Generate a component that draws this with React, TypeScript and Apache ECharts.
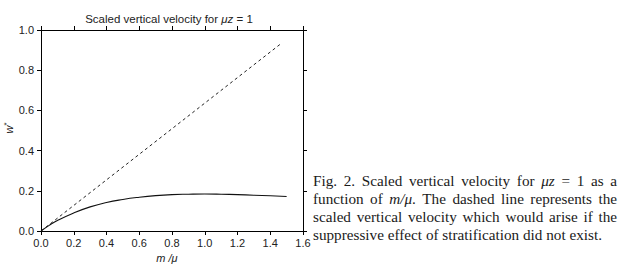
import React, { useEffect, useRef } from "react";
import * as echarts from "echarts";

const solidX = [0, 0.05, 0.1, 0.2, 0.3, 0.4, 0.5, 0.6, 0.7, 0.8, 0.9, 1.0, 1.1, 1.2, 1.3, 1.4, 1.5];
const solidY = [0, 0.028, 0.052, 0.09, 0.12, 0.142, 0.157, 0.168, 0.176, 0.181, 0.183, 0.184, 0.183, 0.181, 0.178, 0.175, 0.172];
const dashedX = [0, 1.47];
const dashedY = [0, 0.935];

const titleText = "Scaled vertical velocity for {i|μz} = 1";
const xAxisName = "m /μ";
const yAxisName = "w";

// caption: each word is list of [text, italic]
type Seg = [string, boolean];
const captionLines: Seg[][][] = [
  [[["Fig.", false]], [["2.", false]], [["Scaled", false]], [["vertical", false]], [["velocity", false]], [["for", false]], [["μz", true]], [["=", false]], [["1", false]], [["as", false]], [["a", false]]],
  [[["function", false]], [["of", false]], [["m/μ", true], [".", false]], [["The", false]], [["dashed", false]], [["line", false]], [["represents", false]], [["the", false]]],
  [[["scaled", false]], [["vertical", false]], [["velocity", false]], [["which", false]], [["would", false]], [["arise", false]], [["if", false]], [["the", false]]],
  [[["suppressive", false]], [["effect", false]], [["of", false]], [["stratification", false]], [["did", false]], [["not", false]], [["exist.", false]]],
];

const CAP_FAMILY = "Liberation Serif";
const CAP_SIZE = 15;

export default function App() {
  const ref = useRef<HTMLDivElement>(null);
  useEffect(() => {
    if (!ref.current) return;
    const chart = echarts.init(ref.current, undefined, { renderer: "svg" });

    const canvas = document.createElement("canvas");
    const ctx = canvas.getContext("2d")!;
    const measure = (t: string, it: boolean) => {
      ctx.font = `${it ? "italic " : ""}${CAP_SIZE}px "${CAP_FAMILY}"`;
      return ctx.measureText(t).width;
    };
    const capLeft = 313;
    const capWidth = 304;
    const lastWidth = 289;
    const capTop = 181;
    const capLine = 18;
    const space = measure(" ", false);
    // horizontal stretch so that the (unjustified) last line matches the reference
    const lastWords = captionLines[captionLines.length - 1];
    const lastNatural =
      lastWords.reduce((s, w) => s + w.reduce((a, [t, it]) => a + measure(t, it), 0), 0) +
      space * (lastWords.length - 1);
    const sx = lastWidth / lastNatural;
    const captionGraphics: any[] = [];
    captionLines.forEach((words, li) => {
      const widths = words.map((w) => w.reduce((s, [t, it]) => s + measure(t, it) * sx, 0));
      const total = widths.reduce((a, b) => a + b, 0);
      const last = li === captionLines.length - 1;
      const gap = last ? space * sx : (capWidth - total) / (words.length - 1);
      let x = capLeft;
      words.forEach((w, wi) => {
        let px = x;
        w.forEach(([t, it]) => {
          captionGraphics.push({
            type: "text",
            x: px,
            y: capTop + li * capLine,
            scaleX: sx,
            style: {
              text: t,
              fontFamily: CAP_FAMILY,
              fontSize: CAP_SIZE,
              fontStyle: it ? "italic" : "normal",
              fill: "#1a1a1a",
              align: "left",
              verticalAlign: "middle",
            },
          });
          px += measure(t, it) * sx;
        });
        x += widths[wi] + gap;
      });
    });

    const axisCommon = {
      axisLine: { show: true, onZero: false, lineStyle: { color: "#000", width: 1 } },
      axisTick: { show: true, inside: false, length: 4, lineStyle: { color: "#000" } },
      splitLine: { show: false },
    };

    chart.setOption({
      animation: false,
      grid: { left: 41, top: 30, width: 262, height: 201, containLabel: false },
      xAxis: [
        {
          type: "value", min: 0, max: 1.6, interval: 0.2, position: "bottom",
          ...axisCommon,
          axisLabel: { color: "#222", fontSize: 11, fontFamily: "Liberation Sans", margin: 6, formatter: (v: number) => v.toFixed(1) },
        },
        {
          type: "value", min: 0, max: 1.6, interval: 0.2, position: "top",
          ...axisCommon,
          axisLabel: { show: false },
        },
      ],
      yAxis: [
        {
          type: "value", min: 0, max: 1.0, interval: 0.2, position: "left",
          ...axisCommon,
          axisLabel: { color: "#222", fontSize: 11, fontFamily: "Liberation Sans", margin: 7, formatter: (v: number) => v.toFixed(1) },
        },
        {
          type: "value", min: 0, max: 1.0, interval: 0.2, position: "right",
          ...axisCommon,
          axisLabel: { show: false },
        },
      ],
      series: [
        {
          type: "line",
          data: dashedX.map((x, i) => [x, dashedY[i]]),
          showSymbol: false,
          lineStyle: { color: "#222", width: 1, type: [3, 3] },
        },
        {
          type: "line",
          smooth: true,
          data: solidX.map((x, i) => [x, solidY[i]]),
          showSymbol: false,
          lineStyle: { color: "#111", width: 1.1 },
        },
      ],
      graphic: [
        {
          type: "text",
          x: 169,
          y: 19,
          style: {
            text: titleText,
            fontFamily: "Liberation Sans",
            fontSize: 11.5,
            fill: "#222",
            align: "center",
            verticalAlign: "middle",
            rich: { i: { fontStyle: "italic", fontSize: 11.5, fontFamily: "Liberation Sans", fill: "#222" } },
          },
        },
        {
          type: "text",
          x: 167,
          y: 258,
          style: {
            text: xAxisName,
            fontFamily: "Liberation Sans",
            fontStyle: "italic",
            fontSize: 11,
            fill: "#222",
            align: "center",
            verticalAlign: "middle",
          },
        },
        {
          type: "text",
          x: 9,
          y: 128,
          rotation: Math.PI / 2,
          style: {
            text: yAxisName + "{s|*}",
            fontFamily: "Liberation Sans",
            fontStyle: "italic",
            fontSize: 11,
            fill: "#222",
            align: "center",
            verticalAlign: "middle",
            rich: { s: { fontSize: 8, fontFamily: "Liberation Sans", fill: "#222", padding: [0, 0, 6, 0] } },
          },
        },
        ...captionGraphics,
      ],
    });
    return () => chart.dispose();
  }, []);
  return (
    <div
      ref={ref}
      style={{ position: "fixed", left: 0, top: 0, width: 622, height: 278, background: "#fff" }}
    />
  );
}
